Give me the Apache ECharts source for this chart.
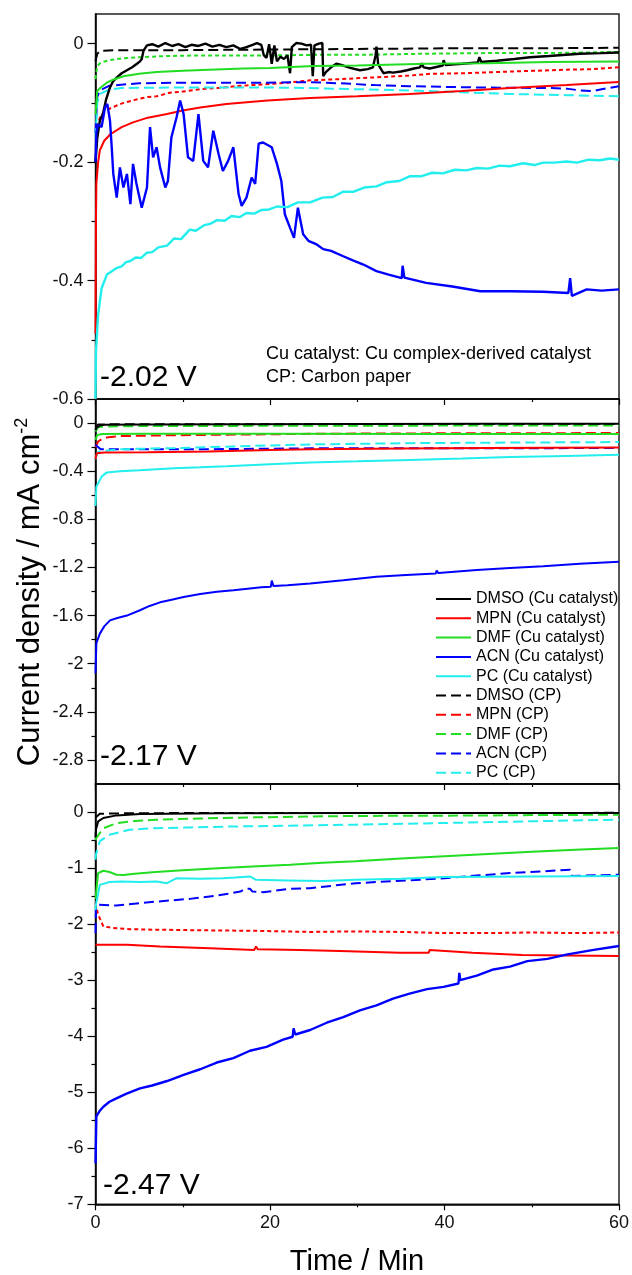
<!DOCTYPE html>
<html>
<head>
<meta charset="utf-8">
<script src="https://cdn.jsdelivr.net/npm/echarts@6/dist/echarts.min.js"></script>
<style>
	html, body { margin: 0; padding: 0; background: #fff; }
	#chart { width: 632px; height: 1275px; }
</style>
</head>
<body>
<div id="chart"></div>
<script>
	// ---- tick values ----
	var timeLabels = [0, 20, 40, 60];
	var yTicks202 = [-0.6, -0.4, -0.2, 0];
	var yMinor202 = [-0.5, -0.3, -0.1];
	var yTicks217 = [-2.8, -2.4, -2, -1.6, -1.2, -0.8, -0.4, 0];
	var yMinor217 = [-2.6, -2.2, -1.8, -1.4, -1, -0.6, -0.2];
	var yTicks247 = [-7, -6, -5, -4, -3, -2, -1, 0];
	var yMinor247 = [-6.5, -5.5, -4.5, -3.5, -2.5, -1.5, -0.5];

	var solvents = ['DMSO', 'MPN', 'DMF', 'ACN', 'PC'];
	var potentials = ['-2.02 V', '-2.17 V', '-2.47 V'];

	// ---- -2.02 V : [time (min), current density (mA cm-2)] ----
	var dmsoCu202 = [[0,-0.2],[0.2,-0.16],[0.5,-0.13],[0.86,-0.118],[1.2,-0.095],[1.66,-0.074],[2,-0.064],[2.46,-0.057],[3,-0.05],[3.6,-0.045],[4.2,-0.04],[4.75,-0.034],[5.1,-0.03],[5.3,-0.026],[5.5,-0.012],[5.9,-0.003],[6.5,-0.001],[7.2,-0.005],[8,0.001],[8.8,-0.004],[9.5,-0.001],[10.3,-0.006],[11,-0.002],[11.8,-0.004],[12.6,0],[13.4,-0.005],[14.2,-0.002],[15,-0.006],[15.8,-0.003],[16.6,-0.009],[17.3,-0.006],[18,-0.002],[18.5,0.001],[19,-0.002],[19.3,-0.02],[19.6,-0.024],[19.9,-0.001],[20.2,-0.034],[20.5,-0.003],[20.8,-0.03],[21.2,-0.022],[21.6,-0.026],[22,-0.02],[22.3,-0.05],[22.5,-0.006],[23,0.001],[23.6,0],[24.2,-0.003],[24.7,-0.002],[24.9,-0.055],[25.1,-0.003],[25.6,0],[26,0.001],[26.1,-0.055],[26.4,-0.048],[27,-0.04],[27.6,-0.034],[28.4,-0.037],[29.2,-0.041],[30.3,-0.045],[31.2,-0.043],[31.8,-0.04],[32.1,-0.02],[32.2,-0.005],[32.4,-0.035],[33,-0.05],[33.6,-0.048],[34.1,-0.049],[35,-0.047],[35.7,-0.045],[36.5,-0.042],[37.2,-0.04],[37.4,-0.033],[37.6,-0.04],[38.3,-0.042],[39.2,-0.039],[39.8,-0.037],[39.9,-0.028],[40.1,-0.036],[42,-0.034],[43.8,-0.032],[44,-0.023],[44.2,-0.031],[46,-0.029],[48,-0.026],[49.8,-0.023],[52,-0.021],[55.5,-0.017],[58,-0.016],[60,-0.015]];
	var mpnCu202 = [[0,-0.49],[0.05,-0.3],[0.1,-0.237],[0.3,-0.2],[0.5,-0.18],[1,-0.164],[1.7,-0.153],[3,-0.141],[4.3,-0.133],[6,-0.125],[8.2,-0.119],[10,-0.113],[12,-0.108],[15,-0.102],[19.7,-0.096],[24.6,-0.092],[30,-0.089],[36,-0.085],[42,-0.08],[47.5,-0.075],[54,-0.07],[60,-0.065]];
	var dmfCu202 = [[0,-0.12],[0.2,-0.08],[0.6,-0.074],[1.3,-0.066],[2,-0.061],[3.2,-0.055],[5,-0.051],[7,-0.048],[10,-0.046],[13,-0.044],[17,-0.042],[20,-0.041],[25,-0.038],[30,-0.037],[38,-0.034],[45,-0.033],[52,-0.031],[60,-0.03]];
	var acnCu202 = [[0,-0.2],[0.1,-0.15],[0.3,-0.136],[0.7,-0.141],[1.1,-0.107],[1.35,-0.102],[1.66,-0.13],[1.86,-0.175],[2.04,-0.22],[2.43,-0.26],[2.8,-0.209],[3.2,-0.243],[3.6,-0.22],[4,-0.271],[4.3,-0.203],[4.7,-0.237],[5.3,-0.277],[5.9,-0.243],[6.25,-0.141],[6.6,-0.192],[7,-0.175],[7.4,-0.209],[8,-0.243],[8.3,-0.232],[8.7,-0.158],[9.3,-0.124],[9.7,-0.096],[10.1,-0.119],[10.6,-0.192],[11.2,-0.198],[11.8,-0.119],[12.35,-0.198],[12.9,-0.209],[13.5,-0.147],[14.1,-0.186],[14.6,-0.215],[15.2,-0.198],[15.8,-0.175],[16.4,-0.254],[16.75,-0.274],[17.3,-0.26],[17.9,-0.226],[18.3,-0.237],[18.7,-0.169],[19.2,-0.167],[20.2,-0.175],[20.8,-0.203],[21.3,-0.232],[21.7,-0.288],[22.3,-0.311],[22.75,-0.328],[23.2,-0.277],[23.8,-0.322],[24.4,-0.333],[25.35,-0.339],[26.1,-0.347],[27,-0.35],[28.4,-0.359],[29.5,-0.366],[30.7,-0.373],[32.2,-0.384],[33.6,-0.39],[35.1,-0.396],[35.2,-0.375],[35.4,-0.395],[37.9,-0.404],[40.9,-0.41],[44.1,-0.418],[47.5,-0.418],[51.3,-0.419],[54.2,-0.421],[54.4,-0.396],[54.6,-0.426],[56.3,-0.415],[58,-0.417],[60,-0.415]];
	var pcCu202 = [[0,-0.6],[0.05,-0.52],[0.3,-0.458],[0.7,-0.413],[1.3,-0.39],[1.8,-0.385],[2.4,-0.379],[3,-0.376],[3.5,-0.369],[4,-0.367],[4.6,-0.361],[5.2,-0.362],[5.9,-0.353],[6.5,-0.352],[7.2,-0.344],[8.2,-0.341],[9,-0.329],[9.8,-0.33],[10.8,-0.314],[11.5,-0.316],[12.4,-0.307],[13.2,-0.304],[13.9,-0.298],[14.8,-0.299],[15.6,-0.291],[16.5,-0.293],[17.3,-0.286],[18.2,-0.287],[19,-0.281],[19.9,-0.28],[20.8,-0.275],[22,-0.276],[23.2,-0.268],[24.6,-0.268],[26,-0.26],[27.2,-0.259],[28.4,-0.25],[29.6,-0.25],[30.8,-0.243],[32.2,-0.241],[33.4,-0.234],[34.8,-0.232],[36,-0.224],[37.3,-0.224],[38.6,-0.218],[39.8,-0.219],[41.2,-0.213],[42.5,-0.214],[43.7,-0.21],[45,-0.211],[46.3,-0.206],[47.5,-0.207],[49,-0.202],[50.3,-0.205],[51.3,-0.201],[52.6,-0.201],[54,-0.199],[55.2,-0.201],[56.5,-0.196],[57.8,-0.197],[59,-0.194],[60,-0.196]];
	var dmsoCp202 = [[0,-0.03],[0.2,-0.017],[0.6,-0.012],[3,-0.011],[10,-0.011],[20,-0.01],[30,-0.009],[40,-0.008],[50,-0.008],[60,-0.007]];
	var mpnCp202 = [[0,-0.2],[0.2,-0.14],[0.5,-0.125],[1,-0.115],[1.6,-0.11],[2.5,-0.104],[3.2,-0.1],[4.5,-0.095],[6,-0.09],[7,-0.089],[8.5,-0.083],[10,-0.081],[12,-0.077],[14,-0.075],[16,-0.072],[18,-0.07],[20,-0.068],[22,-0.066],[24.6,-0.062],[28,-0.06],[32,-0.057],[36,-0.054],[38.3,-0.051],[42,-0.05],[46,-0.048],[50,-0.046],[54,-0.044],[57,-0.043],[60,-0.04]];
	var dmfCp202 = [[0,-0.06],[0.2,-0.038],[0.6,-0.032],[1.6,-0.028],[3,-0.025],[5,-0.023],[8,-0.021],[12,-0.02],[20,-0.02],[25,-0.019],[30,-0.019],[38,-0.017],[45,-0.016],[52,-0.016],[60,-0.014]];
	var acnCp202 = [[0,-0.15],[0.2,-0.09],[0.5,-0.079],[1.6,-0.071],[5,-0.067],[10,-0.066],[19,-0.066],[24.6,-0.065],[28,-0.067],[32,-0.07],[36,-0.072],[44,-0.074],[52,-0.075],[54,-0.076],[55.5,-0.079],[57,-0.08],[58,-0.077],[60,-0.072]];
	var pcCp202 = [[0,-0.16],[0.2,-0.1],[0.5,-0.085],[1.5,-0.078],[3,-0.075],[10,-0.074],[19,-0.074],[24.6,-0.075],[30,-0.077],[36,-0.079],[42,-0.082],[47.5,-0.085],[54,-0.087],[60,-0.089]];

	// ---- -2.17 V ----
	var dmsoCu217 = [[0,-0.06],[0.1,-0.04],[0.5,-0.02],[1,-0.015],[5,-0.012],[15,-0.01],[30,-0.008],[45,-0.006],[60,-0.005]];
	var mpnCu217 = [[0,-0.3],[0.15,-0.25],[1,-0.245],[6,-0.242],[13,-0.236],[20,-0.224],[24.8,-0.217],[35,-0.211],[45,-0.207],[60,-0.203]];
	var dmfCu217 = [[0,-0.14],[0.2,-0.1],[0.8,-0.091],[5,-0.089],[20,-0.089],[40,-0.09],[60,-0.091]];
	var acnCu217 = [[0,-2.08],[0.1,-1.83],[0.5,-1.75],[1,-1.69],[1.66,-1.64],[2.5,-1.62],[3.6,-1.6],[5.1,-1.556],[6.2,-1.52],[7.4,-1.49],[8.6,-1.47],[10.1,-1.445],[12,-1.42],[13.9,-1.403],[15.8,-1.39],[17.7,-1.375],[19,-1.365],[20.1,-1.36],[20.2,-1.31],[20.4,-1.355],[22,-1.348],[24.6,-1.333],[28.4,-1.306],[32.2,-1.278],[35.6,-1.262],[39,-1.25],[39.1,-1.225],[39.3,-1.247],[43.7,-1.222],[47.5,-1.205],[51.3,-1.19],[55.5,-1.17],[60,-1.153]];
	var pcCu217 = [[0,-0.69],[0.1,-0.53],[0.7,-0.445],[1.3,-0.41],[2.8,-0.4],[5,-0.392],[9,-0.375],[12,-0.367],[15,-0.358],[20,-0.342],[24.6,-0.327],[30,-0.318],[36,-0.306],[42,-0.295],[47.5,-0.283],[54,-0.273],[60,-0.264]];
	var dmsoCp217 = [[0,-0.03],[0.3,-0.012],[2,-0.01],[20,-0.009],[40,-0.008],[60,-0.007]];
	var mpnCp217 = [[0,-0.2],[0.3,-0.153],[0.8,-0.13],[1.5,-0.117],[3,-0.108],[4.7,-0.106],[8,-0.102],[13,-0.098],[20,-0.093],[24.8,-0.089],[35,-0.086],[45,-0.085],[60,-0.083]];
	var dmfCp217 = [[0,-0.07],[0.3,-0.035],[1,-0.028],[5,-0.025],[20,-0.023],[40,-0.021],[60,-0.02]];
	var acnCp217 = [[0,-0.18],[0.3,-0.2],[0.6,-0.217],[5,-0.217],[13,-0.217],[24.8,-0.21],[40,-0.209],[60,-0.208]];
	var pcCp217 = [[0,-0.3],[0.2,-0.25],[0.5,-0.236],[2.8,-0.217],[9,-0.208],[18,-0.19],[24.8,-0.177],[36,-0.167],[48,-0.162],[60,-0.158]];

	// ---- -2.47 V ----
	var dmsoCu247 = [[0,-0.45],[0.05,-0.316],[0.3,-0.167],[0.9,-0.107],[2.4,-0.06],[5.1,-0.036],[14.6,-0.02],[30,-0.018],[45,-0.018],[60,-0.018]];
	var mpnCu247 = [[0,-2.37],[3.6,-2.37],[7.4,-2.4],[13.1,-2.43],[18.2,-2.46],[18.4,-2.4],[18.6,-2.45],[23.4,-2.46],[28,-2.48],[34.9,-2.51],[38.2,-2.51],[38.3,-2.46],[38.5,-2.49],[43.2,-2.51],[48.9,-2.55],[54,-2.56],[60,-2.57]];
	var dmfCu247 = [[0,-1.55],[0.05,-1.48],[0.3,-1.09],[0.9,-1.048],[1.6,-1.07],[2.4,-1.12],[3.2,-1.125],[4.5,-1.1],[6.9,-1.07],[10,-1.04],[14.6,-1],[18,-0.97],[22.3,-0.94],[26,-0.905],[29.8,-0.88],[35,-0.83],[40,-0.79],[45,-0.75],[50,-0.71],[55,-0.675],[60,-0.64]];
	var acnCu247 = [[0,-6.27],[0.1,-5.43],[0.5,-5.33],[0.9,-5.26],[1.6,-5.17],[2.4,-5.11],[3.5,-5.03],[5.1,-4.93],[6.5,-4.88],[8.2,-4.8],[10.1,-4.69],[12,-4.59],[13.9,-4.47],[15.8,-4.39],[17.7,-4.26],[19.6,-4.19],[21.5,-4.06],[22.6,-4.01],[22.7,-3.86],[22.9,-3.97],[24.6,-3.89],[26.5,-3.76],[28.4,-3.66],[30.3,-3.54],[32.2,-3.45],[34.1,-3.33],[36,-3.24],[38,-3.16],[39.9,-3.12],[41.6,-3.06],[41.7,-2.87],[41.8,-3],[43.7,-2.92],[45.6,-2.81],[47.5,-2.76],[49.5,-2.66],[51.8,-2.62],[54.1,-2.54],[57.1,-2.46],[60,-2.39]];
	var pcCu247 = [[0,-1.75],[0.05,-1.655],[0.5,-1.3],[1.6,-1.25],[3,-1.24],[5.1,-1.25],[7,-1.24],[8.2,-1.27],[9.3,-1.18],[12,-1.19],[14.6,-1.18],[16,-1.17],[17.7,-1.15],[18.4,-1.21],[22,-1.22],[26.1,-1.23],[29.8,-1.21],[35,-1.19],[40,-1.16],[45,-1.155],[50,-1.15],[55,-1.145],[60,-1.14]];
	var dmsoCp247 = [[0,-0.1],[0.5,-0.03],[5,-0.02],[60,-0.015]];
	var mpnCp247 = [[0,-1.62],[0.05,-1.6],[0.3,-1.83],[0.9,-2.04],[2,-2.07],[4,-2.09],[6.9,-2.1],[12,-2.11],[18.3,-2.12],[24.6,-2.14],[29.8,-2.13],[35,-2.14],[40,-2.16],[45,-2.16],[50,-2.15],[55,-2.16],[60,-2.15]];
	var dmfCp247 = [[0,-0.5],[0.1,-0.46],[0.9,-0.29],[2.4,-0.2],[4.5,-0.16],[6.9,-0.137],[12,-0.115],[18.3,-0.095],[24.6,-0.08],[29.8,-0.07],[40,-0.066],[50,-0.055],[60,-0.048]];
	var acnCp247 = [[0,-2.16],[0.05,-1.71],[0.3,-1.655],[2.4,-1.67],[6.9,-1.6],[10.8,-1.55],[14,-1.49],[16.6,-1.42],[17.2,-1.37],[17.7,-1.37],[18,-1.42],[19.2,-1.43],[22.3,-1.37],[24.6,-1.36],[29.8,-1.27],[32.2,-1.25],[36,-1.22],[40,-1.18],[44,-1.13],[47.5,-1.09],[51,-1.06],[54.4,-1.03],[54.6,-1.14],[57,-1.13],[60,-1.12]];
	var pcCp247 = [[0,-0.85],[0.05,-0.76],[0.5,-0.52],[1.6,-0.405],[3.9,-0.316],[6.5,-0.29],[10.8,-0.275],[16,-0.258],[22.3,-0.243],[29.8,-0.225],[40,-0.196],[50,-0.165],[60,-0.137]];

	var panels = [
		{ cu: [dmsoCu202, mpnCu202, dmfCu202, acnCu202, pcCu202], cp: [dmsoCp202, mpnCp202, dmfCp202, acnCp202, pcCp202], min: -0.6, max: 0.05, ticks: yTicks202, minor: yMinor202 },
		{ cu: [dmsoCu217, mpnCu217, dmfCu217, acnCu217, pcCu217], cp: [dmsoCp217, mpnCp217, dmfCp217, acnCp217, pcCp217], min: -3, max: 0.2, ticks: yTicks217, minor: yMinor217 },
		{ cu: [dmsoCu247, mpnCu247, dmfCu247, acnCu247, pcCu247], cp: [dmsoCp247, mpnCp247, dmfCp247, acnCp247, pcCp247], min: -7, max: 0.5, ticks: yTicks247, minor: yMinor247 }
	];

	var colors = ['#000000', '#ff0000', '#22dd22', '#0000ff', '#22eeee'];
	var font = 'Arial, "Liberation Sans", sans-serif';
	// noisy CP traces look like short dashes in the original
	var shortDash = { '0-1': true, '0-2': true, '2-1': true };
	// noisy Cu traces are drawn a bit heavier
	var heavy = { '0-0': true, '0-3': true, '0-4': true, '2-3': true };

	var grids = [
		{ left: 95.5, top: 14, width: 523.5, height: 385 },
		{ left: 95.5, top: 399, width: 523.5, height: 385 },
		{ left: 95.5, top: 784, width: 523.5, height: 420.3 }
	];

	var xAxes = [], yAxes = [], series = [];
	grids.forEach(function (g, i) {
		g.show = true;
		g.borderColor = '#222';
		g.borderWidth = 1.5;
		g.outerBoundsMode = 'none';
		xAxes.push({
			type: 'value', gridIndex: i, min: 0, max: 60, interval: 20,
			axisLine: { show: true, onZero: false, lineStyle: { color: '#000', width: 1.5 } },
			axisTick: { show: true, inside: false, length: 6, lineStyle: { color: '#000', width: 1.2 } },
			minorTick: { show: true, splitNumber: 2, length: 3, lineStyle: { color: '#000', width: 1.2 } },
			axisLabel: { show: i === 2, customValues: timeLabels, fontSize: 18, color: '#111', fontFamily: font, margin: 10 },
			splitLine: { show: false }
		});
		var p = panels[i];
		yAxes.push({
			type: 'value', gridIndex: i, position: 'left', min: p.min, max: p.max,
			axisLine: { show: true, onZero: false, lineStyle: { color: '#000', width: 1.5 } },
			axisTick: { show: true, inside: false, length: 8, customValues: p.ticks, lineStyle: { color: '#000', width: 1.2 } },
			axisLabel: { customValues: p.ticks, fontSize: 18, color: '#111', fontFamily: font, margin: 12 },
			splitLine: { show: false }
		});
		// minor ticks
		yAxes.push({
			type: 'value', gridIndex: i, position: 'left', offset: 0, min: p.min, max: p.max,
			axisLine: { show: false },
			axisTick: { show: true, inside: false, length: 4, customValues: p.minor, lineStyle: { color: '#000', width: 1.2 } },
			axisLabel: { show: false },
			splitLine: { show: false }
		});
	});

	function addSeries(pi) {
		var p = panels[pi];
		solvents.forEach(function (s, k) {
			series.push({
				name: s + ' (CP)', type: 'line', xAxisIndex: pi, yAxisIndex: pi * 2,
				data: p.cp[k], symbol: 'none', animation: false,
				lineStyle: { color: colors[k], width: 2, type: shortDash[pi + '-' + k] ? [4, 3] : [10, 5] },
				itemStyle: { color: colors[k] }
			});
		});
		solvents.forEach(function (s, k) {
			series.push({
				name: s + ' (Cu catalyst)', type: 'line', xAxisIndex: pi, yAxisIndex: pi * 2,
				data: p.cu[k], symbol: 'none', animation: false,
				lineStyle: { color: colors[k], width: heavy[pi + '-' + k] ? 2.4 : 2 },
				itemStyle: { color: colors[k] }
			});
		});
	}
	// middle panel first so that the legend takes its line styles
	addSeries(1);
	addSeries(0);
	addSeries(2);

	var legendNames = solvents.map(function (s) { return s + ' (Cu catalyst)'; })
		.concat(solvents.map(function (s) { return s + ' (CP)'; }));

	var texts = [
		{ type: 'text', x: 100, y: 378, style: { text: potentials[0], fontSize: 30, fontFamily: font, fill: '#000', verticalAlign: 'middle' } },
		{ type: 'text', x: 100, y: 756.5, style: { text: potentials[1], fontSize: 30, fontFamily: font, fill: '#000', verticalAlign: 'middle' } },
		{ type: 'text', x: 103, y: 1186, style: { text: potentials[2], fontSize: 30, fontFamily: font, fill: '#000', verticalAlign: 'middle' } },
		{ type: 'text', x: 266, y: 354, style: { text: 'Cu catalyst: Cu complex-derived catalyst', fontSize: 18, fontFamily: font, fill: '#000', verticalAlign: 'middle' } },
		{ type: 'text', x: 266, y: 377, style: { text: 'CP: Carbon paper', fontSize: 18, fontFamily: font, fill: '#000', verticalAlign: 'middle' } },
		{ type: 'text', x: 357, y: 1262, style: { text: 'Time / Min', fontSize: 29, fontFamily: font, fill: '#000', align: 'center', verticalAlign: 'middle' } },
		{
			type: 'text', x: 30, y: 592, rotation: Math.PI / 2,
			style: {
				text: '{a|Current density / mA cm}{b|-2}', align: 'center', verticalAlign: 'middle',
				rich: {
					a: { fontSize: 31, fontFamily: font, fill: '#000', lineHeight: 34 },
					b: { fontSize: 18, fontFamily: font, fill: '#000', verticalAlign: 'top', lineHeight: 34 }
				}
			}
		}
	];

	var chart = echarts.init(document.getElementById('chart'));
	chart.setOption({
		animation: false,
		backgroundColor: '#fff',
		grid: grids,
		xAxis: xAxes,
		yAxis: yAxes,
		legend: {
			data: legendNames,
			orient: 'vertical', left: 435, top: 591, padding: 0,
			itemWidth: 35, itemHeight: 14, itemGap: 3.3,
			selectedMode: false,
			itemStyle: { opacity: 0 },
			textStyle: { fontSize: 16, color: '#000', fontFamily: font, lineHeight: 14 }
		},
		series: series,
		graphic: texts
	});
</script>
</body>
</html>
